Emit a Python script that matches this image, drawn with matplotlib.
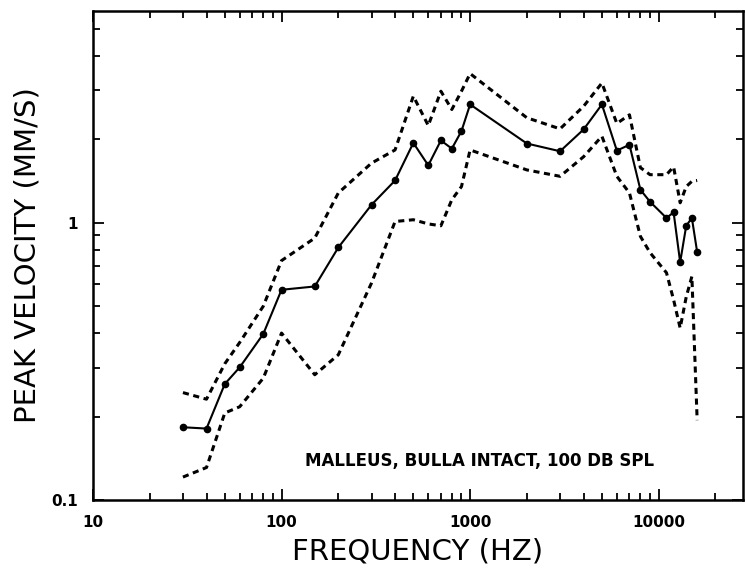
import numpy as np
import matplotlib
matplotlib.use("Agg")
import matplotlib.pyplot as plt
from matplotlib.ticker import LogLocator, FixedLocator, FixedFormatter, NullFormatter

# frequencies (Hz) where the malleus velocity was measured
freq = [30, 40, 50, 60, 80, 100, 150, 200, 300, 400, 500, 600, 700, 800, 900,
        1000, 2000, 3000, 4000, 5000, 6000, 7000, 8000, 9000, 11000, 12000,
        13000, 14000, 15000, 16000]

# mean peak velocity (mm/s)
mean_vel = [0.183, 0.181, 0.262, 0.301, 0.397, 0.573, 0.589, 0.814, 1.16, 1.42,
            1.94, 1.61, 1.98, 1.85, 2.14, 2.67, 1.93, 1.81, 2.17, 2.67, 1.82,
            1.91, 1.315, 1.19, 1.04, 1.09, 0.72, 0.975, 1.04, 0.784]

# upper and lower bounds (dashed)
upper_vel = [0.244, 0.231, 0.31, 0.37, 0.50, 0.73, 0.88, 1.28, 1.64, 1.83,
             2.86, 2.24, 2.98, 2.56, 2.98, 3.45, 2.39, 2.18, 2.63, 3.19, 2.28,
             2.45, 1.58, 1.49, 1.49, 1.59, 1.18, 1.35, 1.41, 1.42]
lower_vel = [0.121, 0.131, 0.206, 0.217, 0.275, 0.40, 0.283, 0.334, 0.606, 1.01,
             1.025, 0.99, 0.975, 1.21, 1.35, 1.83, 1.55, 1.47, 1.73, 2.05, 1.47,
             1.28, 0.893, 0.78, 0.66, 0.527, 0.417, 0.54, 0.64, 0.194]

x_ticks = [10, 100, 1000, 10000]
x_labels = ["10", "100", "1000", "10000"]
y_ticks = [0.1, 1]
y_labels = ["0.1", "1"]

fig = plt.figure(figsize=(7.45, 5.76), dpi=100)
ax = fig.add_axes([0.1248, 0.1319, 0.9973 - 0.1248, 0.849])

# bounds
ax.plot(freq, upper_vel, color="black", lw=2.2, dashes=(2.0, 1.5))
ax.plot(freq, lower_vel, color="black", lw=2.2, dashes=(2.0, 1.5))
# mean
ax.plot(freq, mean_vel, color="black", lw=1.5, marker="o", markersize=4.5)

ax.set_xscale("log")
ax.set_yscale("log")
ax.set_xlim(10, 28000)
ax.set_ylim(0.1, 5.8)

ax.xaxis.set_major_locator(FixedLocator(x_ticks))
ax.xaxis.set_major_formatter(FixedFormatter(x_labels))
ax.xaxis.set_minor_locator(LogLocator(base=10, subs=np.arange(2, 10)))
ax.xaxis.set_minor_formatter(NullFormatter())
ax.yaxis.set_major_locator(FixedLocator(y_ticks))
ax.yaxis.set_major_formatter(FixedFormatter(y_labels))
ax.yaxis.set_minor_locator(LogLocator(base=10, subs=np.arange(2, 10)))
ax.yaxis.set_minor_formatter(NullFormatter())

ax.tick_params(which="both", direction="in", top=True, right=True, width=1.3)
ax.tick_params(which="major", length=8, labelsize=11, pad=11)
ax.tick_params(which="minor", length=5)
for lab in ax.get_xticklabels() + ax.get_yticklabels():
    lab.set_fontweight("bold")

for s in ax.spines.values():
    s.set_linewidth(1.8)

ax.set_xlabel("FREQUENCY (HZ)", fontsize=21, labelpad=5)
ax.set_ylabel("PEAK VELOCITY (MM/S)", fontsize=21, labelpad=7)

ax.text(0.594, 0.080, "MALLEUS, BULLA INTACT, 100 DB SPL", transform=ax.transAxes,
        ha="center", va="center", fontsize=12, fontweight="bold")

fig.savefig("out.png", dpi=100)
